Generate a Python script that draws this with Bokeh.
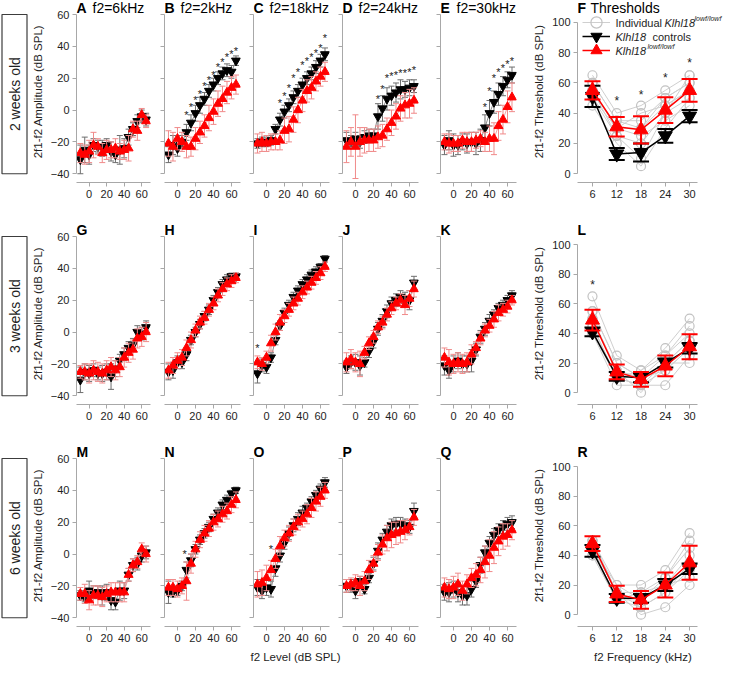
import math
from bokeh.plotting import figure
from bokeh.layouts import row, column
from bokeh.models import (ColumnDataSource, Label, Legend, LegendItem,
                          FixedTicker, Range1d, BoxAnnotation)
from bokeh.core.properties import value
from bokeh.embed import file_html
from bokeh.resources import INLINE

FONT = "Liberation Sans"

# ---------------- data ----------------
levels = [-10, -5, 0, 5, 10, 15, 20, 25, 30, 35, 40, 45, 50, 55, 60, 65]
freqs = [6, 12, 18, 24, 30]
amp_ticks = [-40, -20, 0, 20, 40, 60]
level_ticks = [0, 20, 40, 60]
thr_ticks = [0, 20, 40, 60, 80, 100]

age_labels = ["2 weeks old", "3 weeks old", "6 weeks old"]
f2_titles = ["f2=6kHz", "f2=2kHz", "f2=18kHz", "f2=24kHz", "f2=30kHz"]

# 2 weeks
A_ctrl = [-31, -25, -28, -22, -23, -24, -22, -26, -28, -25, -24, -17, -12, -7, -4, -6]
A_ctrl_err = [9, 8, 6, 4, 4, 5, 4, 6, 5, 9, 6, 5, 4, 4, 4, 4]
A_mut = [-27, -28, -26, -22, -23, -27, -25, -25, -24, -26, -25, -24, -12, -13, -3, -7]
A_mut_err = [6, 6, 7, 8, 5, 6, 6, 5, 6, 5, 6, 8, 5, 6, 4, 4]
A_star_x = []
A_star_y = []

B_ctrl = [-28, -22, -24, -20, -14, -8, -2, 3, 7, 12, 16, 20, 23, 25, 24, 31]
B_ctrl_err = [5, 6, 5, 4, 5, 5, 5, 5, 4, 4, 4, 4, 4, 4, 4, 3]
B_mut = [-21, -23, -18, -20, -23, -23, -18, -14, -10, -5, -1, 4, 7, 11, 14, 16]
B_mut_err = [8, 9, 7, 6, 7, 6, 7, 7, 7, 8, 8, 8, 8, 7, 7, 6]
B_star_x = [10, 15, 20, 25, 30, 35, 40, 45, 50, 55, 60, 65]
B_star_y = [-1, 4, 8, 12, 17, 21, 24, 29, 32, 35, 37, 39]

C_ctrl = [-21, -20, -20, -19, -12, -6, -1, 3, 8, 12, 16, 20, 23, 27, 31, 35]
C_ctrl_err = [3, 3, 3, 3, 3, 4, 4, 4, 4, 4, 4, 4, 4, 4, 4, 4]
C_mut = [-21, -20, -21, -20, -20, -19, -13, -12, -6, 0, 6, 12, 14, 18, 21, 24]
C_mut_err = [6, 6, 5, 5, 5, 6, 8, 8, 8, 8, 7, 7, 7, 6, 6, 6]
C_star_x = [15, 20, 25, 30, 35, 40, 45, 50, 55, 60, 65]
C_star_y = [6, 11, 16, 22, 26, 30, 33, 35, 38, 41, 47]

D_ctrl = [-19, -20, -18, -20, -17, -16, -16, -4, 1, 7, 9, 11, 13, 13, 14, 15]
D_ctrl_err = [5, 4, 4, 4, 4, 4, 4, 8, 8, 7, 6, 6, 6, 5, 5, 4]
D_mut = [-23, -20, -23, -20, -19, -19, -19, -17, -16, -12, -8, -4, 1, 3, 4, 6]
D_mut_err = [10, 9, 20, 9, 8, 7, 7, 7, 7, 7, 8, 8, 8, 8, 9, 8]
D_star_x = [25, 30, 35, 40, 45, 50, 55, 60, 65]
D_star_y = [9, 15, 22, 23, 24, 25, 25, 26, 27]

E_ctrl = [-22, -19, -22, -22, -20, -21, -20, -21, -19, -11, -2, 5, 10, 15, 19, 22]
E_ctrl_err = [6, 6, 7, 6, 5, 6, 6, 7, 7, 8, 8, 7, 7, 6, 5, 5]
E_mut = [-20, -21, -21, -21, -19, -20, -20, -19, -18, -20, -18, -18, -10, -6, 2, 8]
E_mut_err = [5, 6, 5, 5, 5, 6, 6, 5, 5, 6, 8, 10, 9, 9, 10, 9]
E_star_x = [35, 40, 45, 50, 55, 60, 65]
E_star_y = [4, 14, 22, 26, 28, 31, 33]

F_ctrl = [51, 13, 14, 25, 38]
F_ctrl_err = [7, 4, 6, 4.5, 4]
F_mut = [55, 31, 29, 42, 55]
F_mut_err = [6, 6.5, 9, 8.5, 7.5]
F_star_x = [12, 18, 24, 30]
F_star_y = [50, 54, 65, 75]
F_ind_1 = [65, 40, 45, 55, 65]
F_ind_2 = [60, 35, 35, 50, 60]
F_ind_3 = [55, 30, 30, 45, 55]
F_ind_4 = [55, 25, 20, 40, 50]
F_ind_5 = [50, 30, 25, 35, 45]
F_ind_6 = [45, 20, 5, 30, 50]
F_ind_7 = [60, 35, 30, 50, 60]
F_ind_8 = [55, 30, 40, 45, 55]
F_ind_9 = [50, 25, 10, 40, 65]

# 3 weeks
G_ctrl = [-30, -25, -26, -24, -26, -26, -25, -28, -23, -18, -14, -10, -8, 0, -1, 3]
G_ctrl_err = [8, 5, 5, 4, 4, 5, 5, 8, 5, 4, 4, 4, 4, 4, 4, 4]
G_mut = [-25, -25, -26, -24, -25, -26, -24, -22, -24, -22, -16, -13, -11, -4, -3, 0]
G_mut_err = [4, 5, 6, 6, 6, 6, 6, 6, 6, 6, 6, 6, 6, 6, 6, 6]
G_star_x = []
G_star_y = []

H_ctrl = [-25, -24, -19, -19, -14, -5, 0, 5, 10, 14, 20, 25, 30, 33, 35, 35]
H_ctrl_err = [5, 5, 4, 4, 4, 3, 3, 3, 3, 3, 3, 3, 3, 3, 2, 2]
H_mut = [-24, -21, -18, -16, -10, -5, 1, 6, 9, 14, 18, 23, 27, 30, 32, 34]
H_mut_err = [5, 5, 5, 5, 5, 5, 4, 4, 4, 4, 4, 4, 4, 4, 4, 3]
H_star_x = []
H_star_y = []

I_ctrl = [-26, -21, -22, -16, -5, 4, 12, 17, 22, 26, 30, 33, 36, 38, 41, 46]
I_ctrl_err = [6, 4, 4, 3, 3, 3, 3, 3, 3, 3, 3, 3, 3, 3, 2, 2]
I_mut = [-19, -20, -16, -7, 0, 6, 10, 14, 18, 21, 25, 28, 31, 34, 37, 41]
I_mut_err = [4, 4, 4, 5, 5, 5, 4, 4, 4, 4, 4, 4, 4, 4, 4, 3]
I_star_x = [-10]
I_star_y = [-8]

J_ctrl = [-22, -19, -19, -21, -19, -12, -6, 2, 7, 13, 18, 20, 22, 21, 20, 31]
J_ctrl_err = [4, 4, 5, 6, 3, 4, 4, 4, 4, 4, 4, 4, 4, 4, 6, 4]
J_mut = [-19, -17, -19, -20, -13, -7, -3, 3, 6, 11, 15, 18, 20, 17, 21, 27]
J_mut_err = [6, 6, 6, 8, 4, 4, 4, 4, 4, 4, 4, 4, 4, 6, 5, 5]
J_star_x = []
J_star_y = []

K_ctrl = [-21, -24, -20, -18, -20, -20, -18, -11, -3, 2, 7, 11, 15, 17, 20, 23]
K_ctrl_err = [6, 5, 5, 5, 5, 5, 7, 4, 4, 4, 4, 3, 3, 3, 3, 3]
K_mut = [-16, -19, -20, -19, -20, -19, -14, -10, -4, 1, 4, 8, 12, 14, 16, 20]
K_mut_err = [6, 8, 6, 6, 6, 6, 6, 4, 4, 4, 4, 5, 5, 4, 4, 3]
K_star_x = []
K_star_y = []

L_ctrl = [41, 11, 10, 20, 30]
L_ctrl_err = [3, 3, 3, 3, 3.5]
L_mut = [49, 14, 9, 18, 31]
L_mut_err = [7, 5, 5, 7, 8.5]
L_star_x = [6]
L_star_y = [75]
L_ind_1 = [65, 25, 15, 30, 50]
L_ind_2 = [55, 20, 10, 25, 40]
L_ind_3 = [50, 15, 10, 20, 35]
L_ind_4 = [45, 10, 5, 15, 30]
L_ind_5 = [40, 5, 5, 5, 25]
L_ind_6 = [50, 15, 0, 20, 20]
L_ind_7 = [45, 10, 15, 25, 45]
L_ind_8 = [55, 20, 10, 15, 30]
L_ind_9 = [40, 10, 5, 20, 35]

# 6 weeks
M_ctrl = [-26, -27, -23, -24, -24, -26, -24, -29, -30, -23, -23, -13, -7, -6, -1, 1]
M_ctrl_err = [3, 3, 6, 4, 4, 6, 5, 6, 5, 6, 5, 4, 4, 4, 4, 4]
M_mut = [-25, -25, -29, -26, -26, -27, -25, -24, -24, -24, -24, -13, -7, -5, 3, 0]
M_mut_err = [4, 6, 6, 6, 6, 6, 5, 6, 6, 6, 6, 4, 4, 4, 4, 5]
M_star_x = []
M_star_y = []

N_ctrl = [-24, -24, -23, -20, -10, -4, 3, 9, 13, 17, 22, 26, 31, 34, 38, 40]
N_ctrl_err = [7, 3, 3, 3, 5, 4, 3, 3, 3, 3, 3, 3, 3, 3, 2, 2]
N_mut = [-21, -21, -22, -20, -17, -6, 3, 9, 13, 16, 20, 22, 25, 27, 31, 34]
N_mut_err = [5, 5, 5, 5, 12, 6, 5, 5, 5, 5, 5, 5, 5, 5, 5, 5]
N_star_x = [8]
N_star_y = [2]

O_ctrl = [-21, -23, -21, -22, -9, -1, 7, 13, 18, 22, 26, 29, 33, 37, 41, 45]
O_ctrl_err = [5, 5, 5, 5, 5, 4, 4, 4, 4, 4, 4, 3, 3, 3, 3, 3]
O_mut = [-19, -18, -15, -10, -3, 5, 10, 13, 17, 20, 22, 25, 29, 33, 36, 40]
O_mut_err = [8, 8, 8, 6, 6, 6, 5, 5, 5, 5, 5, 6, 6, 6, 6, 5]
O_star_x = [5]
O_star_y = [5]

P_ctrl = [-20, -20, -23, -17, -22, -15, -6, 2, 9, 14, 18, 19, 19, 18, 17, 27]
P_ctrl_err = [4, 4, 5, 3, 3, 3, 4, 5, 4, 4, 4, 4, 4, 4, 4, 5]
P_mut = [-20, -19, -18, -20, -17, -10, -6, 1, 6, 10, 12, 13, 14, 15, 17, 23]
P_mut_err = [4, 4, 5, 6, 6, 6, 5, 5, 6, 8, 8, 7, 7, 6, 5, 5]
P_star_x = []
P_star_y = []

Q_ctrl = [-24, -24, -22, -24, -26, -26, -22, -17, -7, 1, 7, 12, 15, 17, 19, 20]
Q_ctrl_err = [5, 6, 5, 6, 6, 6, 5, 4, 5, 4, 4, 4, 4, 4, 4, 4]
Q_mut = [-21, -22, -21, -19, -23, -19, -15, -13, -10, -5, -1, 4, 8, 11, 12, 15]
Q_mut_err = [6, 6, 7, 7, 6, 6, 6, 7, 8, 10, 10, 10, 9, 8, 7, 6]
Q_star_x = []
Q_star_y = []

R_ctrl = [43, 11, 11, 20, 31]
R_ctrl_err = [4, 3, 3, 4, 3.5]
R_mut = [48, 14, 10, 20, 35]
R_mut_err = [5, 5.5, 6, 8.5, 11.5]
R_star_x = []
R_star_y = []
R_ind_1 = [50, 20, 20, 30, 55]
R_ind_2 = [45, 15, 15, 25, 50]
R_ind_3 = [45, 10, 10, 20, 40]
R_ind_4 = [40, 10, 5, 15, 30]
R_ind_5 = [50, 15, 0, 5, 20]
R_ind_6 = [45, 20, 10, 25, 45]
R_ind_7 = [40, 10, 15, 20, 25]
R_ind_8 = [50, 15, 5, 15, 35]

amp_rows = [
    [("A", A_ctrl, A_ctrl_err, A_mut, A_mut_err, A_star_x, A_star_y),
     ("B", B_ctrl, B_ctrl_err, B_mut, B_mut_err, B_star_x, B_star_y),
     ("C", C_ctrl, C_ctrl_err, C_mut, C_mut_err, C_star_x, C_star_y),
     ("D", D_ctrl, D_ctrl_err, D_mut, D_mut_err, D_star_x, D_star_y),
     ("E", E_ctrl, E_ctrl_err, E_mut, E_mut_err, E_star_x, E_star_y)],
    [("G", G_ctrl, G_ctrl_err, G_mut, G_mut_err, G_star_x, G_star_y),
     ("H", H_ctrl, H_ctrl_err, H_mut, H_mut_err, H_star_x, H_star_y),
     ("I", I_ctrl, I_ctrl_err, I_mut, I_mut_err, I_star_x, I_star_y),
     ("J", J_ctrl, J_ctrl_err, J_mut, J_mut_err, J_star_x, J_star_y),
     ("K", K_ctrl, K_ctrl_err, K_mut, K_mut_err, K_star_x, K_star_y)],
    [("M", M_ctrl, M_ctrl_err, M_mut, M_mut_err, M_star_x, M_star_y),
     ("N", N_ctrl, N_ctrl_err, N_mut, N_mut_err, N_star_x, N_star_y),
     ("O", O_ctrl, O_ctrl_err, O_mut, O_mut_err, O_star_x, O_star_y),
     ("P", P_ctrl, P_ctrl_err, P_mut, P_mut_err, P_star_x, P_star_y),
     ("Q", Q_ctrl, Q_ctrl_err, Q_mut, Q_mut_err, Q_star_x, Q_star_y)],
]
thr_rows = [
    ("F", [F_ind_1, F_ind_2, F_ind_3, F_ind_4, F_ind_5, F_ind_6, F_ind_7, F_ind_8, F_ind_9],
     F_ctrl, F_ctrl_err, F_mut, F_mut_err, F_star_x, F_star_y),
    ("L", [L_ind_1, L_ind_2, L_ind_3, L_ind_4, L_ind_5, L_ind_6, L_ind_7, L_ind_8, L_ind_9],
     L_ctrl, L_ctrl_err, L_mut, L_mut_err, L_star_x, L_star_y),
    ("R", [R_ind_1, R_ind_2, R_ind_3, R_ind_4, R_ind_5, R_ind_6, R_ind_7, R_ind_8],
     R_ctrl, R_ctrl_err, R_mut, R_mut_err, R_star_x, R_star_y),
]

# ---------------- geometry ----------------
# each frame includes a 14 px title band at its top
ROW_H = [222, 222, 204]
FH = 182
STRIP_H = 16
TOTAL_W = 724
LAB_W = 28
AMP_W = [125, 89, 89, 98, 101]
AMP_BL = [46, 11, 11, 11, 11]
AMP_FW = 76
THR_W = 194
THR_BL = 46
THR_FW = 148
THR_PX_PER_KHZ = 121 / 29.7

AXIS_GREY = "#a8a8a8"
TXT = "#1e1e1e"
CTRL_ERR = "#6e6e6e"
CTRL_LINE = "#8c8c8c"
MUT_ERR = "#f08a8a"
MUT_LINE = "#f5a3a3"


def style_axes(p):
    p.grid.visible = False
    p.outline_line_color = None
    for ax in p.axis:
        ax.axis_line_color = AXIS_GREY
        ax.axis_line_width = 1
        ax.major_tick_line_color = AXIS_GREY
        ax.major_tick_in = 0
        ax.major_tick_out = 4
        ax.minor_tick_line_color = None
        ax.major_label_text_font = FONT
        ax.major_label_text_font_size = "11px"
        ax.major_label_text_color = TXT
        ax.major_label_standoff = 3
        ax.axis_label_text_font = FONT
        ax.axis_label_text_font_size = "11.5px"
        ax.axis_label_text_font_style = "normal"
        ax.axis_label_text_color = TXT
        ax.axis_label_standoff = 4


def draw_series(p, xs, ys, errs, color, err_color, line_color, marker, size, cap, lw_err, lw_line):
    src = ColumnDataSource(dict(
        x=xs, y=ys,
        lo=[v - e for v, e in zip(ys, errs)],
        hi=[v + e for v, e in zip(ys, errs)],
    ))
    p.segment(x0="x", y0="lo", x1="x", y1="hi", source=src,
              line_color=err_color, line_width=lw_err)
    p.scatter(x="x", y="lo", source=src, marker="dash", size=cap,
              line_color=err_color, line_width=lw_err)
    p.scatter(x="x", y="hi", source=src, marker="dash", size=cap,
              line_color=err_color, line_width=lw_err)
    ln = p.line(x="x", y="y", source=src, line_color=line_color, line_width=lw_line)
    pts = p.scatter(x="x", y="y", source=src, marker=marker, size=size,
                    fill_color=color, line_color=color)
    return ln, pts


def add_title(p, letter, rest, rx):
    p.add_layout(Label(x=0, y=FH - 7, x_units="screen", y_units="screen",
                       text=letter, text_font=FONT, text_font_size="14px",
                       text_font_style="bold", text_color="#000000",
                       text_baseline="middle", text_align="left"))
    if rest:
        p.add_layout(Label(x=rx, y=FH - 7, x_units="screen", y_units="screen",
                           text=rest, text_font=FONT, text_font_size="14px",
                           text_color="#000000", text_baseline="middle",
                           text_align="left"))


def stars(p, sx, sy, size):
    if sx:
        p.text(x=sx, y=sy, text=["*"] * len(sx), text_font=value(FONT),
               text_font_size=size, text_color="#222222", text_align="center",
               text_baseline="middle", y_offset=3)


def label_fig(rh, text):
    p = figure(width=LAB_W, height=rh, min_border_left=0, min_border_right=0,
               min_border_top=0, min_border_bottom=rh - FH,
               x_range=Range1d(-0.06, 1.06), y_range=Range1d(-45.5, 68.8),
               x_axis_location=None, y_axis_location=None,
               output_backend="svg", toolbar_location=None, tools="", title=None)
    p.grid.visible = False
    p.outline_line_color = None
    p.add_layout(BoxAnnotation(left=0, right=1, bottom=-40, top=60,
                               fill_alpha=0, line_color="#3c3c3c",
                               line_alpha=1.0, line_width=1.2))
    p.add_layout(Label(x=0.5, y=10, text=text, angle=math.pi / 2,
                       text_font=FONT, text_font_size="14px", text_color=TXT,
                       text_align="center", text_baseline="middle"))
    return p


def amp_fig(ri, ci, rh, spec):
    letter, ctrl, cerr, mut, merr, sx, sy = spec
    w = AMP_W[ci]
    bl = AMP_BL[ci]
    p = figure(width=w, height=rh, min_border_left=bl, min_border_right=w - bl - AMP_FW,
               min_border_top=0, min_border_bottom=rh - FH,
               x_range=Range1d(-14.4, 70), y_range=Range1d(-45.5, 68.8),
               output_backend="svg", toolbar_location=None, tools="", title=None)
    style_axes(p)
    p.xaxis.ticker = FixedTicker(ticks=level_ticks)
    p.yaxis.ticker = FixedTicker(ticks=amp_ticks)
    p.yaxis.bounds = (-40, 60)
    if ci == 0:
        p.yaxis.axis_label = "2f1-f2 Amplitude (dB SPL)"
    else:
        p.yaxis.major_label_text_font_size = "0px"
        p.yaxis.major_label_text_color = None
        p.yaxis.major_label_standoff = 0
    draw_series(p, levels, ctrl, cerr, "#000000", CTRL_ERR, CTRL_LINE,
                "inverted_triangle", 9, 6, 1, 1)
    draw_series(p, levels, mut, merr, "#ff0000", MUT_ERR, MUT_LINE,
                "triangle", 9, 6, 1, 1)
    stars(p, sx, sy, "11px")
    add_title(p, letter, f2_titles[ci] if ri == 0 else "", 16)
    return p


def thr_fig(ri, rh, spec):
    letter, inds, ctrl, cerr, mut, merr, sx, sy = spec
    if ri == 0:
        yr = Range1d(-5.8, 114.35)
    else:
        yr = Range1d(-8, 114.85)
    p = figure(width=THR_W, height=rh, min_border_left=THR_BL,
               min_border_right=THR_W - THR_BL - THR_FW,
               min_border_top=0, min_border_bottom=rh - FH,
               x_range=Range1d(2.3, 2.3 + THR_FW / THR_PX_PER_KHZ), y_range=yr,
               output_backend="svg", toolbar_location=None, tools="", title=None)
    style_axes(p)
    p.xaxis.ticker = FixedTicker(ticks=freqs)
    p.xaxis.bounds = (2.3, 32)
    p.yaxis.ticker = FixedTicker(ticks=thr_ticks)
    p.yaxis.bounds = (0, 100)
    p.yaxis.axis_label = "2f1-f2 Threshold (dB SPL)"
    ind_items = None
    for vals in inds:
        src = ColumnDataSource(dict(x=freqs, y=vals))
        l = p.line(x="x", y="y", source=src, line_color="#cfcfcf", line_width=1)
        c = p.scatter(x="x", y="y", source=src, marker="circle", size=9,
                      fill_color=None, line_color="#c2c2c2", line_width=1.2)
        if ind_items is None:
            ind_items = [l, c]
    cl, cp = draw_series(p, freqs, ctrl, cerr, "#000000", "#000000", "#000000",
                         "inverted_triangle", 14, 16, 2, 1.5)
    ml, mp = draw_series(p, freqs, mut, merr, "#ff0000", "#ff0000", "#ff0000",
                         "triangle", 14, 16, 2, 1.5)
    stars(p, sx, sy, "12px")
    if ri == 0:
        add_title(p, letter, "Thresholds", 13)
        for rends, cy in ((ind_items, 22), ([cl, cp], 36), ([ml, mp], 50)):
            leg = Legend(items=[LegendItem(label=" ", renderers=rends)],
                         location=(5, FH - cy - 15), orientation="vertical",
                         glyph_width=28, glyph_height=30, label_height=30,
                         spacing=0, padding=0, margin=0, label_width=1,
                         label_standoff=0, label_text_font_size="1px",
                         border_line_color=None, background_fill_alpha=0)
            p.add_layout(leg)
        pieces = [
            ("Individual", 38, FH - 22, "normal", "11px"),
            ("Klhl18", 87, FH - 22, "italic", "11px"),
            ("lowf/lowf", 117, FH - 18, "italic", "7px"),
            ("Klhl18", 38, FH - 36, "italic", "11px"),
            ("controls", 75, FH - 36, "normal", "11px"),
            ("Klhl18", 38, FH - 50, "italic", "11px"),
            ("lowf/lowf", 70, FH - 46, "italic", "7px"),
        ]
        for t, x, y, st, fs in pieces:
            p.add_layout(Label(x=x, y=y, x_units="screen", y_units="screen", text=t,
                               text_font=FONT, text_font_size=fs, text_font_style=st,
                               text_color=TXT, text_baseline="middle", text_align="left"))
    else:
        add_title(p, letter, "", 0)
    return p


rows = []
for ri in range(3):
    rh = ROW_H[ri]
    figs = [label_fig(rh, age_labels[ri])]
    for ci in range(5):
        figs.append(amp_fig(ri, ci, rh, amp_rows[ri][ci]))
    figs.append(thr_fig(ri, rh, thr_rows[ri]))
    rows.append(row(*figs, spacing=0))

# bottom strip holding the shared x-axis titles
strip = figure(width=TOTAL_W, height=STRIP_H, min_border=0,
               x_range=Range1d(0, TOTAL_W), y_range=Range1d(0, STRIP_H),
               x_axis_location=None, y_axis_location=None,
               output_backend="svg", toolbar_location=None, tools="", title=None)
strip.grid.visible = False
strip.outline_line_color = None
amp_frame_center = LAB_W + AMP_W[0] + AMP_W[1] + AMP_BL[2] + AMP_FW / 2 + 4
thr_frame_center = TOTAL_W - THR_W + THR_BL + 121 / 2 + 6
for t, x in (("f2 Level (dB SPL)", amp_frame_center), ("f2 Frequency (kHz)", thr_frame_center)):
    strip.add_layout(Label(x=x, y=STRIP_H / 2, text=t, text_font=FONT,
                           text_font_size="11.5px", text_color=TXT,
                           text_align="center", text_baseline="middle"))

layout = column(*rows, strip, spacing=0)
open("out.html", "w").write(file_html(layout, INLINE))
